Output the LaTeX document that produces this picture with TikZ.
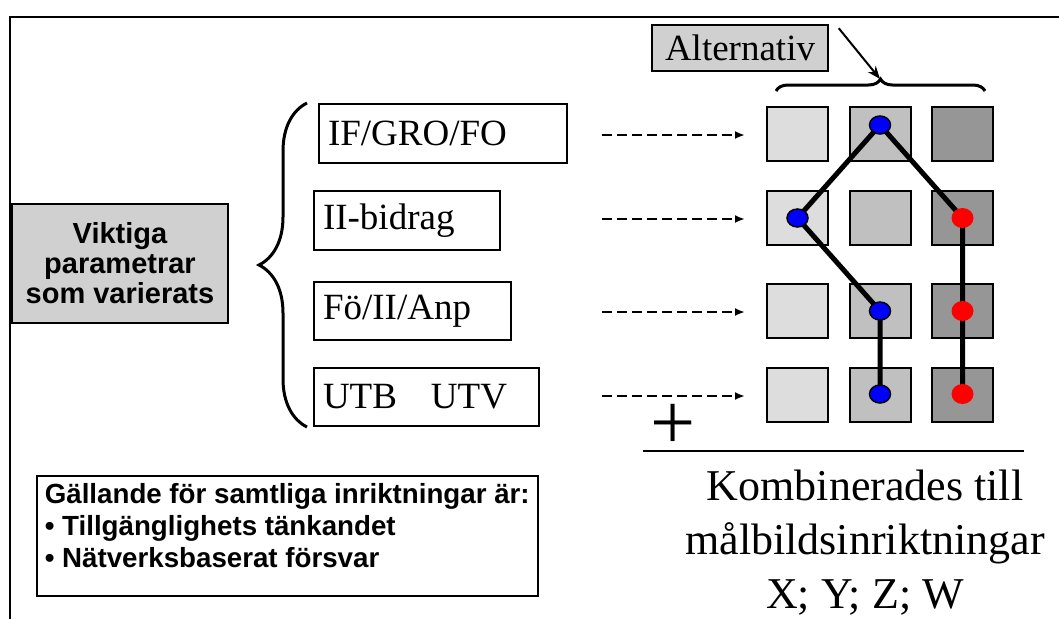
\documentclass[tikz,border=0pt]{standalone}
\usepackage{fontspec}
\setmainfont{Liberation Serif}
\newfontfamily\arialf{Liberation Sans}
\usetikzlibrary{decorations.pathreplacing,arrows.meta,shapes.geometric}
\definecolor{boxgray}{HTML}{D0D0D0}
\definecolor{c1}{HTML}{DDDDDD}
\definecolor{c2}{HTML}{C0C0C0}
\definecolor{c3}{HTML}{969696}
\tikzset{
  frameline/.style={line width=1.5pt},
  parbox/.style={draw, line width=2pt, anchor=north west, inner xsep=9pt, inner ysep=0pt,
    align=left, font=\fontsize{37}{40}\selectfont},
  sq/.style={draw, line width=2pt, minimum width=61pt, minimum height=54pt, inner sep=0pt},
  bdot/.style={ellipse, fill=blue, draw=black, line width=1.5pt, minimum width=21pt, minimum height=18pt, inner sep=0pt},
  rdot/.style={ellipse, fill=red, minimum width=22pt, minimum height=20pt, inner sep=0pt},
  pathline/.style={line width=5pt},
  dasharrow/.style={line width=2.5pt, dash pattern=on 10pt off 5pt, -{Latex[length=10pt,width=8pt]}},
  bracestyle/.style={line width=3pt, decorate},
}
\begin{document}
\begin{tikzpicture}[x=1pt,y=-1pt]
\useasboundingbox (0,0) rectangle (1059,619);
% frame
\draw[frameline] (10,619) -- (10,17) -- (1059,17);

% Alternativ
\node[draw, line width=1.5pt, fill=boxgray, minimum width=176pt, minimum height=46pt, inner sep=0pt,
  font=\fontsize{37}{40}\selectfont] (alt) at (740,48) {Alternativ};
\coordinate (btip) at (880,79);
\draw[bracestyle, decoration={brace, amplitude=12pt}] (776,91) -- (985,91);
\draw[line width=2pt, -{Stealth[length=13pt,width=10pt]}] ([xshift=10pt,yshift=-4pt]alt.north east) -- (btip);

% Viktiga parametrar
\node[draw, line width=1.5pt, fill=boxgray, minimum width=216pt, minimum height=119pt, inner sep=0pt,
  align=center, font=\arialf\bfseries\fontsize{29}{30}\selectfont] (vik) at (120,263.5)
  {Viktiga\\parametrar\\som varierats};
\draw[bracestyle, decoration={brace, amplitude=48pt}] (307,427) -- (307,103);

% parameter boxes
\node[parbox, minimum height=59pt, text width=230pt] (p1) at (318,103) {IF/GRO/FO};
\node[parbox, minimum height=59pt, text width=168pt] (p2) at (313,190) {II-bidrag};
\node[parbox, minimum height=58pt, text width=179pt] (p3) at (313,281) {Fö/II/Anp};
\node[parbox, minimum height=58pt, text width=207pt] (p4) at (313,367) {UTB\hspace{34pt}UTV};

% squares
\foreach \r/\y in {1/134,2/218,3/311,4/395}{
  \node[sq, fill=c1] (s\r1) at (797.5,\y) {};
  \node[sq, fill=c2] (s\r2) at (880,\y) {};
  \node[sq, fill=c3] (s\r3) at (962.5,\y) {};
  \draw[dasharrow] ([xshift=-164pt,yshift=-1pt]s\r1.west) -- ([xshift=-21pt,yshift=-1pt]s\r1.west);
}

% dot positions
\coordinate (c12) at (880,125);
\coordinate (c21) at (797.5,218);
\coordinate (c32) at (880,311);
\coordinate (c42) at (880,394);
\coordinate (c23) at (962.5,218);
\coordinate (c33) at (962.5,311);
\coordinate (c43) at (962.5,394);
\draw[pathline] (c12) -- (c21) -- (c32) -- (c42);
\draw[pathline] (c12) -- (c23) -- (c33) -- (c43);
\node[bdot] (d12) at (c12) {};
\node[bdot] (d21) at (c21) {};
\node[bdot] (d32) at (c32) {};
\node[bdot] (d42) at (c42) {};
\node[rdot] (d23) at (c23) {};
\node[rdot] (d33) at (c33) {};
\node[rdot] (d43) at (c43) {};

% plus and sum line
\node[inner sep=0pt, font=\fontsize{80}{80}\selectfont] (plus) at (673,427) {+};
\coordinate (l1) at (643,451);
\coordinate (l2) at (1024,451);
\draw[line width=2.5pt] (l1) -- (l2);

\node[align=center, inner sep=0pt, font=\fontsize{44}{54}\selectfont] (komb) at (865,543)
  {Kombinerades till\\målbildsinriktningar\\X; Y; Z; W};

% Gällande box
\node[draw, line width=1.5pt, anchor=north west, inner sep=0pt, minimum height=120pt,
  minimum width=501pt, align=left, font=\arialf\bfseries\fontsize{27.7}{32}\selectfont] (gal) at (36,475)
  {Gällande för samtliga inriktningar är:\\• Tillgänglighets tänkandet\\• Nätverksbaserat försvar\\[-12pt]\mbox{}};
\end{tikzpicture}
\end{document}
